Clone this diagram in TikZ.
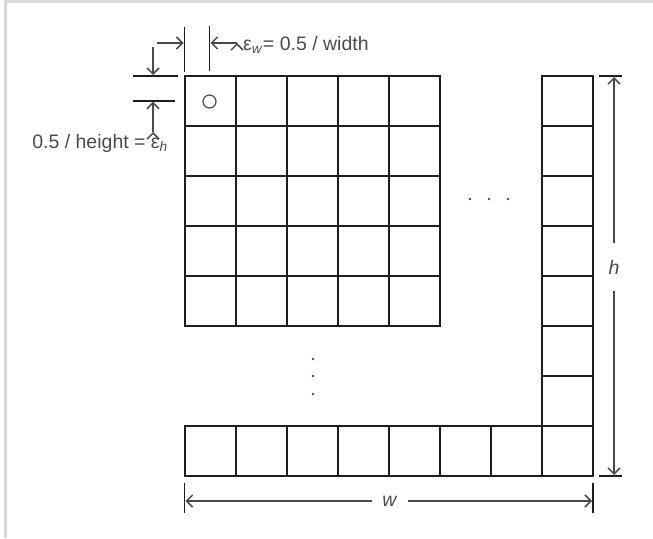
\documentclass[tikz,border=0pt]{standalone}
\usepackage{fontspec}
\setmainfont{Liberation Sans}
\usetikzlibrary{arrows.meta}
\definecolor{gridline}{HTML}{1E1E1E}
\definecolor{dimline}{HTML}{4A4A4A}
\definecolor{frameline}{HTML}{D9D9D9}
\tikzset{
  cell/.style={draw=gridline, line width=1.8pt, minimum width=51pt, minimum height=50pt, inner sep=0pt, outer sep=0pt},
  dimarrow/.style={draw=dimline, line width=1.1pt, -{Straight Barb[length=6pt,width=12pt,line width=1.5pt]}},
  tickline/.style={draw=gridline, line width=1.8pt},
  lbl/.style={text=dimline, font=\fontsize{19.5}{23}\selectfont, inner sep=0pt},
  dotmark/.style={circle, fill=dimline, inner sep=0pt, minimum size=2.6pt}
}
\begin{document}
\begin{tikzpicture}[x=1pt,y=-1pt]
  \useasboundingbox (0,0) rectangle (653,538);
  \coordinate (FrameB) at (5.5,538);
  \coordinate (FrameC) at (5.5,1.3);
  \coordinate (FrameR) at (653,1.3);
  \draw[frameline, line width=3pt] (FrameB) -- (FrameC) -- (FrameR);
  \foreach \r in {0,...,4}
    \foreach \c in {0,...,4}
      \node[cell] (G\r\c) at (210.5+51*\c,101+50*\r) {};
  \foreach \r in {0,...,7}
    \node[cell] (R\r) at (567.5,101+50*\r) {};
  \foreach \c in {0,...,7}
    \node[cell] (B\c) at (210.5+51*\c,451) {};
  \node[circle, draw=dimline, line width=1.2pt, minimum size=13pt, inner sep=0pt] (Sample) at (209.5,101.5) {};
  \node (D1) at (470,199) [dotmark] {};
  \node (D2) at (489,199) [dotmark] {};
  \node (D3) at (508,199) [dotmark] {};
  \node (D4) at (313,359) [dotmark] {};
  \node (D5) at (313,376) [dotmark] {};
  \node (D6) at (313,394) [dotmark] {};
  \coordinate (EwL1) at (184.5,27);
  \coordinate (EwL2) at (184.5,72);
  \coordinate (EwR1) at (209.5,26);
  \coordinate (EwR2) at (209.5,71);
  \coordinate (EwA1) at (157,43);
  \coordinate (EwT1) at (183.5,43);
  \coordinate (EwA2) at (237,43);
  \coordinate (EwT2) at (210.5,43);
  \path[tickline] (EwL1) edge (EwL2) (EwR1) edge (EwR2);
  \path[dimarrow] (EwA1) edge (EwT1) (EwA2) edge (EwT2);
  \node[lbl, anchor=base west] (EwText) at (243,50) {ε\textsubscript{\textit{w}}= 0.5 / width};
  \coordinate (EhT1) at (133,76);
  \coordinate (EhT2) at (178,76);
  \coordinate (EhB1) at (133,100.7);
  \coordinate (EhB2) at (175,100.7);
  \coordinate (EhA1) at (153,47);
  \coordinate (EhP1) at (153,75);
  \coordinate (EhA2) at (153,132);
  \coordinate (EhP2) at (153,101.7);
  \path[tickline] (EhT1) edge (EhT2) (EhB1) edge (EhB2);
  \path[dimarrow] (EhA1) edge (EhP1) (EhA2) edge (EhP2);
  \node[lbl, anchor=base east] (EhText) at (168,148.5) {0.5 / height = ε\textsubscript{\textit{h}}};
  \coordinate (HT1) at (599,76);
  \coordinate (HT2) at (622,76);
  \coordinate (HB1) at (599,476);
  \coordinate (HB2) at (622,476);
  \coordinate (HTop) at (614,77);
  \coordinate (HBot) at (614,475);
  \path[tickline] (HT1) edge (HT2) (HB1) edge (HB2);
  \node[lbl, minimum height=48pt] (HLabel) at (614,267) {\textit{h}};
  \path[dimarrow] (HLabel) edge (HTop) (HLabel) edge (HBot);
  \coordinate (WL1) at (184.5,483);
  \coordinate (WL2) at (184.5,513);
  \coordinate (WR1) at (593,483);
  \coordinate (WR2) at (593,513);
  \coordinate (WLeft) at (185.5,501);
  \coordinate (WRight) at (592,501);
  \path[tickline] (WL1) edge (WL2) (WR1) edge (WR2);
  \node[lbl, minimum width=36pt] (WLabel) at (390,501) {\textit{w}};
  \path[dimarrow] (WLabel) edge (WLeft) (WLabel) edge (WRight);
\end{tikzpicture}
\end{document}
